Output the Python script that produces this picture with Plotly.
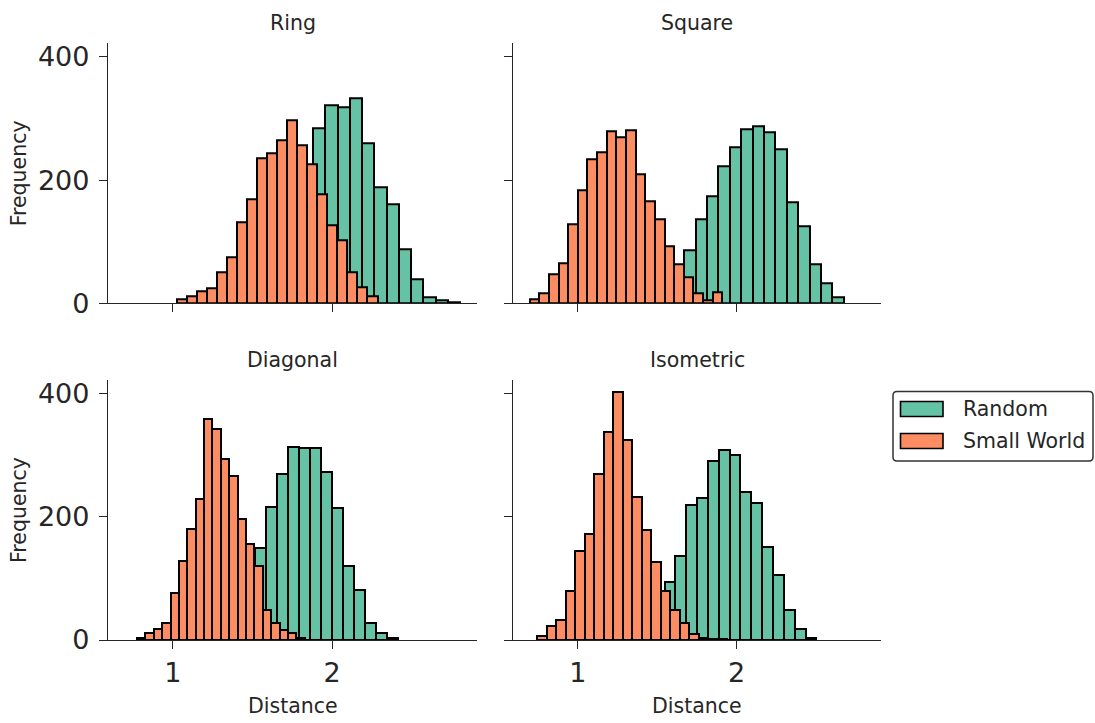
import plotly.graph_objects as go

W, H = 1095, 723

# ---------------- data ----------------
panels = ["Ring", "Square", "Diagonal", "Isometric"]
series_names = ["Random", "Small World"]

# bin left edges and bin widths (Distance units)
random_bin_start = [1.263, 1.241, 1.029, 1.137]
random_bin_width = [0.0771, 0.0717, 0.0692, 0.0683]
small_bin_start = [1.025, 0.697, 0.774, 0.744]
small_bin_width = [0.0630, 0.0607, 0.0527, 0.0599]

ring_random = [2, 5, 12, 25, 50, 90, 140, 200, 284, 321, 318, 332, 260, 189, 160, 88, 39, 9, 5, 2]
ring_small = [6, 11, 19, 25, 50, 74, 131, 169, 236, 243, 265, 297, 256, 226, 177, 127, 102, 50, 26, 12]
square_random = [1, 3, 7, 15, 30, 50, 86, 136, 174, 222, 254, 283, 287, 278, 250, 164, 125, 64, 32, 9]
square_small = [6, 16, 47, 65, 128, 183, 234, 245, 279, 269, 281, 209, 166, 137, 92, 63, 42, 17, 5, 18]
diagonal_random = [1, 2, 5, 12, 30, 60, 100, 149, 216, 269, 313, 311, 312, 273, 214, 120, 81, 27, 11, 3]
diagonal_small = [3, 12, 18, 27, 76, 129, 180, 229, 358, 343, 294, 266, 196, 156, 120, 48, 28, 17, 12, 4]
isometric_random = [1, 3, 8, 18, 35, 60, 94, 136, 219, 231, 291, 308, 300, 241, 222, 151, 106, 48, 18, 4]
isometric_small = [6, 22, 32, 80, 145, 172, 270, 338, 402, 324, 232, 178, 126, 80, 49, 28, 10, 3, 1, 1]

random_counts = [ring_random, square_random, diagonal_random, isometric_random]
small_counts = [ring_small, square_small, diagonal_small, isometric_small]

x_ticks = [1, 2]
y_ticks = [0, 200, 400]
x_range = [0.592, 2.91]
y_range = [0, 422]

GREEN = "#66c2a5"
ORANGE = "#fc8d62"
INK = "#262626"

# ---------------- layout geometry ----------------
def px(x):
    return x / W

def py(y):
    return 1 - y / H

x_domains = [[px(108), px(477)], [px(513), px(881)]]
y_domains = [[py(303.3), py(43.3)], [py(640), py(380)]]

fig = go.Figure()

def centers(start, width, n):
    return [start + width * (i + 0.5) for i in range(n)]

for i, name in enumerate(panels):
    ax = "" if i == 0 else str(i + 1)
    rc = random_counts[i]
    sc = small_counts[i]
    fig.add_trace(go.Bar(
        x=centers(random_bin_start[i], random_bin_width[i], len(rc)), y=rc,
        width=random_bin_width[i], name=series_names[0],
        marker=dict(color=GREEN, line=dict(color="black", width=2)),
        xaxis="x" + ax, yaxis="y" + ax, showlegend=False))
    fig.add_trace(go.Bar(
        x=centers(small_bin_start[i], small_bin_width[i], len(sc)), y=sc,
        width=small_bin_width[i], name=series_names[1],
        marker=dict(color=ORANGE, line=dict(color="black", width=2)),
        xaxis="x" + ax, yaxis="y" + ax, showlegend=False))

layout = dict(
    template="none",
    width=W, height=H, margin=dict(l=0, r=0, t=0, b=0, pad=0),
    autosize=False,
    paper_bgcolor="white", plot_bgcolor="white",
    barmode="overlay", bargap=0, showlegend=False,
    font=dict(family="DejaVu Sans", color=INK),
)

annotations = []
for i, name in enumerate(panels):
    row, col = divmod(i, 2)
    ax = "" if i == 0 else str(i + 1)
    layout["xaxis" + ax] = dict(
        domain=x_domains[col], anchor="y" + ax, range=x_range, automargin=False,
        tickvals=x_ticks, ticks="outside", ticklen=8, tickwidth=1.3, tickcolor=INK,
        showline=True, linewidth=1.3, linecolor=INK, showgrid=False, zeroline=False,
        showticklabels=(row == 1), tickfont=dict(size=27, color=INK))
    layout["yaxis" + ax] = dict(
        domain=y_domains[row], anchor="x" + ax, range=y_range, automargin=False,
        tickvals=y_ticks, ticks="outside", ticklen=8, tickwidth=1.3, tickcolor=INK,
        showline=True, linewidth=1.3, linecolor=INK, showgrid=False, zeroline=False,
        showticklabels=(col == 0), tickfont=dict(size=27, color=INK),
        ticklabelstandoff=4)
    xc = (x_domains[col][0] + x_domains[col][1]) / 2
    annotations.append(dict(text=name, x=xc, y=y_domains[row][1], xref="paper", yref="paper",
                            xanchor="center", yanchor="bottom", yshift=6, showarrow=False,
                            font=dict(size=20.5, color=INK)))
    if col == 0:
        yc = (y_domains[row][0] + y_domains[row][1]) / 2
        annotations.append(dict(text="Frequency", x=px(19), y=yc, xref="paper", yref="paper",
                                xanchor="center", yanchor="middle", textangle=-90, showarrow=False,
                                font=dict(size=20.5, color=INK)))
    if row == 1:
        annotations.append(dict(text="Distance", x=xc, y=py(706), xref="paper", yref="paper",
                                xanchor="center", yanchor="middle", showarrow=False,
                                font=dict(size=20.5, color=INK)))

# custom legend
shapes = []
bx0, bx1, by0, by1 = 893, 1093, 391.5, 461
r = 4
path = (f"M {px(bx0 + r)},{py(by0)} L {px(bx1 - r)},{py(by0)} "
        f"Q {px(bx1)},{py(by0)} {px(bx1)},{py(by0 + r)} L {px(bx1)},{py(by1 - r)} "
        f"Q {px(bx1)},{py(by1)} {px(bx1 - r)},{py(by1)} L {px(bx0 + r)},{py(by1)} "
        f"Q {px(bx0)},{py(by1)} {px(bx0)},{py(by1 - r)} L {px(bx0)},{py(by0 + r)} "
        f"Q {px(bx0)},{py(by0)} {px(bx0 + r)},{py(by0)} Z")
shapes.append(dict(type="path", path=path, xref="paper", yref="paper",
                   line=dict(color="#333333", width=1.5), fillcolor="white", layer="above"))
for k, (label, colr) in enumerate(zip(series_names, [GREEN, ORANGE])):
    yc = 409 + 32 * k
    shapes.append(dict(type="rect", xref="paper", yref="paper",
                       x0=px(900.5), x1=px(943), y0=py(yc - 7.5), y1=py(yc + 7.5),
                       line=dict(color="black", width=1.6), fillcolor=colr, layer="above"))
    annotations.append(dict(text=label, x=px(961), y=py(yc), xref="paper", yref="paper",
                            xanchor="left", yanchor="middle", showarrow=False,
                            font=dict(size=20.5, color=INK)))

layout["annotations"] = annotations
layout["shapes"] = shapes
fig.update_layout(**layout)
fig.write_html("out.html")
